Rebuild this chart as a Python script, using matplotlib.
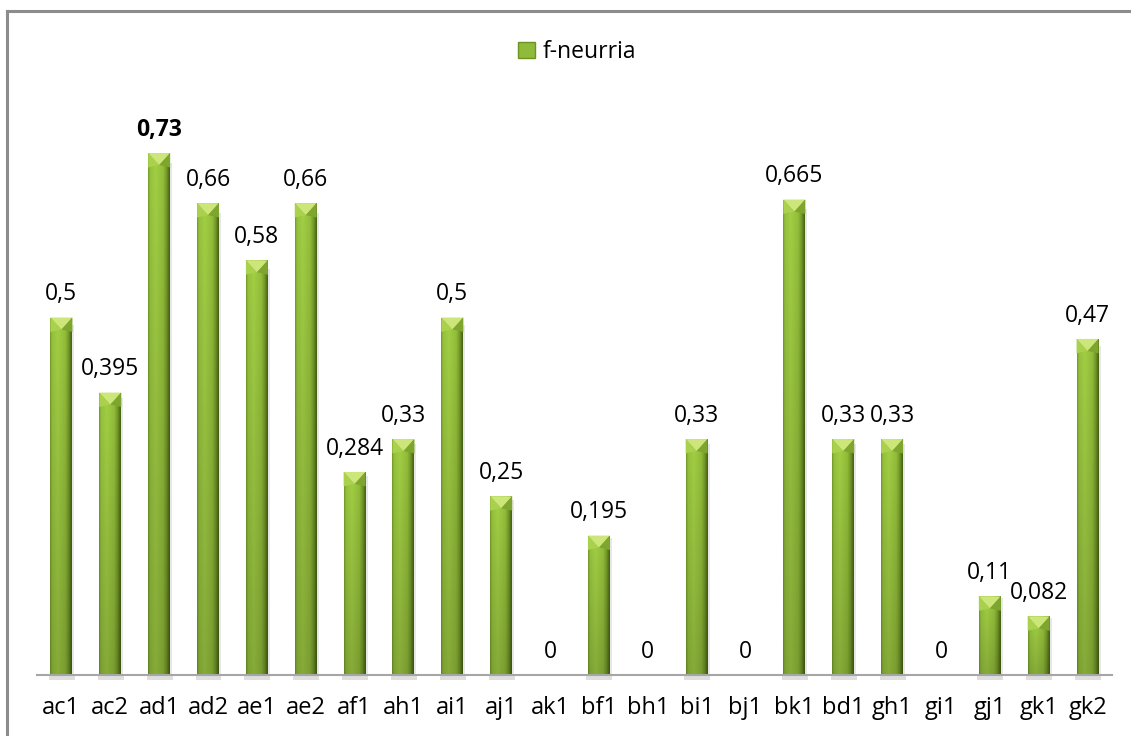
import matplotlib
matplotlib.use("Agg")
import matplotlib.pyplot as plt
import numpy as np
from matplotlib.colors import to_rgb
from matplotlib.patches import Polygon, Rectangle
from matplotlib.lines import Line2D

categories = ["ac1", "ac2", "ad1", "ad2", "ae1", "ae2", "af1", "ah1", "ai1", "aj1", "ak1",
              "bf1", "bh1", "bi1", "bj1", "bk1", "bd1", "gh1", "gi1", "gj1", "gk1", "gk2"]
values = [0.5, 0.395, 0.73, 0.66, 0.58, 0.66, 0.284, 0.33, 0.5, 0.25, 0,
          0.195, 0, 0.33, 0, 0.665, 0.33, 0.33, 0, 0.11, 0.082, 0.47]
labels = ["0,5", "0,395", "0,73", "0,66", "0,58", "0,66", "0,284", "0,33", "0,5", "0,25", "0",
          "0,195", "0", "0,33", "0", "0,665", "0,33", "0,33", "0", "0,11", "0,082", "0,47"]
series_name = "f-neurria"

plt.rcParams['font.family'] = ['Open Sans', 'DejaVu Sans']

W, H = 1131, 736
fig = plt.figure(figsize=(W / 100, H / 100), dpi=100)
ax = fig.add_axes([37 / W, 1 - 675 / H, (1112 - 37) / W, (675 - 103) / H])
ax.set_xlim(-0.5, len(categories) - 0.5)
ax.set_ylim(0, 0.8)

x = np.arange(len(categories))
bars = ax.bar(x, values, width=0.45, color="#8fba3a", edgecolor="none", zorder=2)

# horizontal colour profile of a bar (left -> right)
stops = [(0.0, "#6f9428"), (0.08, "#8fba3a"), (0.35, "#9cc742"), (0.7, "#8db638"),
         (0.86, "#6e9226"), (1.0, "#445f12")]
n = 48
pos = np.linspace(0, 1, n)
cols = np.array([to_rgb(c) for _, c in stops])
sp = np.array([s for s, _ in stops])
row = np.stack([np.interp(pos, sp, cols[:, k]) for k in range(3)], axis=-1)
vert = np.linspace(1.04, 0.86, 64)[:, None, None]  # top brighter, bottom darker
img2d = np.clip(row[None, :, :] * vert, 0, 1)

px_per_unit = (675 - 103) / 0.8
bevel_h = 12 / px_per_unit
for b, v in zip(bars, values):
    if v <= 0:
        continue
    x0, w, h = b.get_x(), b.get_width(), b.get_height()
    # soft shadow right & below
    ax.add_patch(Rectangle((x0 + w, 0), 0.04, h * 0.98, color="#d8d8d8", alpha=0.6,
                           zorder=1, lw=0))
    ax.add_patch(Rectangle((x0 - 0.03, -0.007), w + 0.08, 0.007, color="#c8c8c8", alpha=0.6,
                           clip_on=False, zorder=1, lw=0))
    im = ax.imshow(img2d, extent=(x0, x0 + w, 0, h), aspect="auto", zorder=3,
                   interpolation="bilinear")
    im.set_clip_path(b)
    bh = min(bevel_h, h)
    ax.add_patch(Polygon([(x0, h), (x0 + w, h), (x0 + w / 2, h - bh)], closed=True,
                         facecolor="#cde67a", edgecolor="none", zorder=4))
    ax.add_patch(Polygon([(x0, h), (x0 + w / 2, h - bh), (x0, h - bh * 1.2)], closed=True,
                         facecolor="#a9d14e", edgecolor="none", zorder=4))
    ax.add_patch(Polygon([(x0 + w, h), (x0 + w / 2, h - bh), (x0 + w, h - bh * 1.2)], closed=True,
                         facecolor="#7ea62e", edgecolor="none", zorder=4))

for xi, v, lab in zip(x, values, labels):
    ax.annotate(lab, (xi, v), xytext=(0, 8), textcoords="offset points",
                ha="center", va="bottom", fontsize=16.5,
                fontweight="bold" if lab == "0,73" else "normal", color="#000000", zorder=5)

ax.set_xticks(x)
ax.set_xticklabels(categories, fontsize=17)
ax.tick_params(axis="x", length=0, pad=15)
ax.set_yticks([])
for s in ["top", "right", "left"]:
    ax.spines[s].set_visible(False)
ax.spines["bottom"].set_color("#a6a6a6")
ax.spines["bottom"].set_linewidth(1.5)
ax.spines["bottom"].set_zorder(6)

# legend
legend_handle = Rectangle((0, 0), 1, 1, facecolor="#8fba3a", edgecolor="#6d9422")
fig.legend([legend_handle], [series_name], loc="center", bbox_to_anchor=(577 / W, 1 - 52 / H),
           frameon=False, fontsize=16.5, handlelength=0.75, handleheight=0.75, handletextpad=0.3)

# outer border
fig.add_artist(Line2D([7 / W, 1.0], [1 - 10.5 / H, 1 - 10.5 / H], color="#8c8c8c", lw=2.2,
                      transform=fig.transFigure))
fig.add_artist(Line2D([7 / W, 7 / W], [0, 1 - 10.5 / H], color="#8c8c8c", lw=2.2,
                      transform=fig.transFigure))

fig.savefig("out.png", dpi=100)
